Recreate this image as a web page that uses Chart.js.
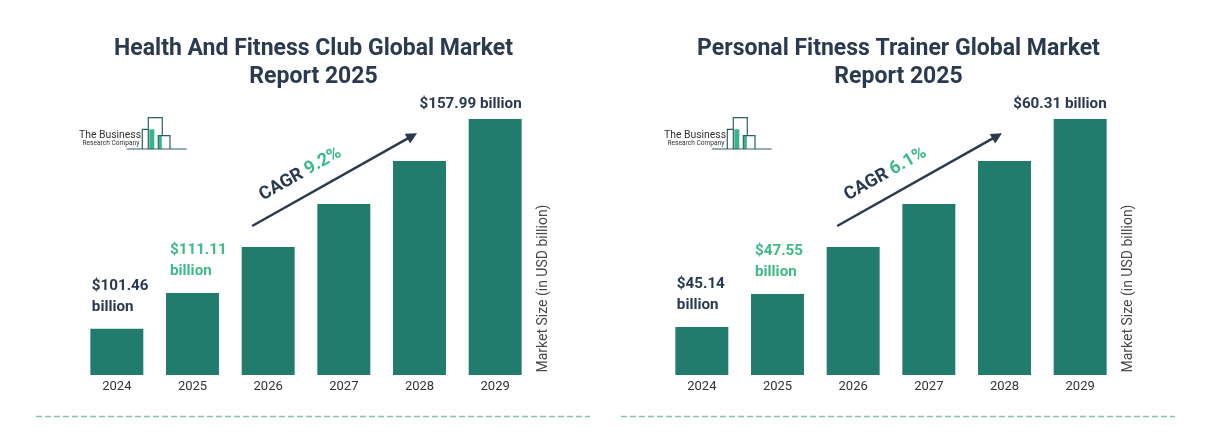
<!DOCTYPE html>
<html>
<head>
<meta charset="utf-8">
<script src="https://cdn.jsdelivr.net/npm/chart.js@4.4.1/dist/chart.umd.min.js"></script>
<style>
  html, body { margin: 0; padding: 0; background: #ffffff; }
  #wrap { position: relative; width: 1215px; height: 443px; overflow: hidden; background: #ffffff; }
  canvas { position: absolute; top: 0; }
  #c1 { left: 0; }
  #c2 { left: 585px; }
</style>
</head>
<body>
<div id="wrap">
  <canvas id="c1" width="600" height="443"></canvas>
  <canvas id="c2" width="600" height="443"></canvas>
</div>
<script>
// ---- Data ----
const years = ['2024', '2025', '2026', '2027', '2028', '2029'];
const clubValues = [101.46, 111.11, 123.5, 135.1, 146.7, 157.99];
const trainerValues = [45.14, 47.55, 50.98, 54.11, 57.25, 60.31];
const clubTitle = ['Health And Fitness Club Global Market', 'Report 2025'];
const trainerTitle = ['Personal Fitness Trainer Global Market', 'Report 2025'];
const clubCagr = '9.2%';
const trainerCagr = '6.1%';
const clubAxisMin = 89;
const trainerAxisMin = 41.65;
const axisLabel = 'Market Size (in USD billion)';

// ---- Styles ----
const BAR = '#217c6d';
const DARK = '#2b3a4f';
const GREEN = '#3dba88';
const FONT = 'Roboto, "Noto Sans", sans-serif';

const decor = {
  id: 'decor',
  afterDraw(chart, args, o) {
    const ctx = chart.ctx;
    const ca = chart.chartArea;
    const bars = chart.getDatasetMeta(0).data;
    const vals = chart.data.datasets[0].data;
    ctx.save();

    // Title
    ctx.fillStyle = DARK;
    ctx.font = 'bold 23px ' + FONT;
    ctx.textAlign = 'center';
    ctx.textBaseline = 'middle';
    ctx.fillText(o.title[0], 313.5, 49);
    ctx.fillText(o.title[1], 313.5, 77.5);

    // Logo
    ctx.fillStyle = '#333333';
    ctx.textAlign = 'left';
    ctx.font = '10.4px ' + FONT;
    ctx.fillText('The Business', 79, 135);
    ctx.font = '6.6px ' + FONT;
    ctx.fillText('Research Company', 82.5, 143.7);
    ctx.fillStyle = '#35b58a';
    ctx.fillRect(149.3, 129.3, 5, 19.7);
    ctx.fillRect(159, 135.7, 2.8, 13.3);
    ctx.strokeStyle = '#2f5f63';
    ctx.lineWidth = 1.2;
    ctx.beginPath();
    ctx.moveTo(126.7, 149); ctx.lineTo(186.7, 149);
    ctx.moveTo(142.3, 149); ctx.lineTo(142.3, 129.3); ctx.lineTo(148.3, 129.3);
    ctx.moveTo(148.3, 149); ctx.lineTo(148.3, 117.7); ctx.lineTo(162.3, 117.7); ctx.lineTo(162.3, 135.7);
    ctx.moveTo(158.3, 149); ctx.lineTo(158.3, 135.7); ctx.lineTo(170, 135.7); ctx.lineTo(170, 149);
    ctx.stroke();

    // Value labels
    ctx.font = 'bold 15.2px ' + FONT;
    ctx.textBaseline = 'middle';
    const b0 = bars[0], b1 = bars[1], b5 = bars[5];
    ctx.fillStyle = DARK;
    ctx.textAlign = 'left';
    ctx.fillText('$' + vals[0].toFixed(2), b0.x - b0.width / 2 + 1.5, b0.y - 42.5);
    ctx.fillText('billion', b0.x - b0.width / 2 + 1.5, b0.y - 21.5);
    ctx.fillStyle = GREEN;
    ctx.fillText('$' + vals[1].toFixed(2), b1.x - b1.width / 2 + 4, b1.y - 42.5);
    ctx.fillText('billion', b1.x - b1.width / 2 + 4, b1.y - 21.5);
    ctx.fillStyle = DARK;
    ctx.textAlign = 'right';
    ctx.fillText('$' + vals[5].toFixed(2) + ' billion', b5.x + b5.width / 2, b5.y - 15);

    // CAGR arrow
    const b2 = bars[2], b4 = bars[4];
    const sx = b2.x - b2.width / 2 + 10.5, sy = b2.y - 21;
    const ex = b4.x - b4.width / 2 + 24, ey = b4.y - 27.7;
    const ang = Math.atan2(ey - sy, ex - sx);
    const len = Math.hypot(ex - sx, ey - sy);
    ctx.translate(sx, sy);
    ctx.rotate(ang);
    ctx.strokeStyle = DARK;
    ctx.fillStyle = DARK;
    ctx.lineWidth = 2.5;
    ctx.beginPath();
    ctx.moveTo(0, 0);
    ctx.lineTo(len - 8, 0);
    ctx.stroke();
    ctx.beginPath();
    ctx.moveTo(len, 0);
    ctx.lineTo(len - 11, -5.5);
    ctx.lineTo(len - 11, 5.5);
    ctx.closePath();
    ctx.fill();
    ctx.font = 'bold 18px ' + FONT;
    ctx.textAlign = 'left';
    ctx.textBaseline = 'alphabetic';
    const w1 = ctx.measureText('CAGR ').width;
    ctx.fillText('CAGR ', 22, -17);
    ctx.fillStyle = GREEN;
    ctx.fillText(o.cagr, 22 + w1, -17);
    ctx.setTransform(1, 0, 0, 1, 0, 0);

    // Axis label
    ctx.save();
    ctx.translate(ca.right + 10, 288.5);
    ctx.rotate(-Math.PI / 2);
    ctx.font = '14px ' + FONT;
    ctx.fillStyle = '#4a4a4a';
    ctx.textAlign = 'center';
    ctx.textBaseline = 'middle';
    ctx.fillText(axisLabel, 0, 0);
    ctx.restore();

    // Dashed separator
    ctx.strokeStyle = '#86c2b4';
    ctx.lineWidth = 1.5;
    ctx.setLineDash([6, 3]);
    ctx.beginPath();
    ctx.moveTo(36, 416.5);
    ctx.lineTo(590, 416.5);
    ctx.stroke();
    ctx.restore();
  }
};

function makeChart(id, values, min, title, cagr) {
  return new Chart(document.getElementById(id), {
    type: 'bar',
    data: {
      labels: years,
      datasets: [{
        data: values,
        backgroundColor: BAR,
        borderWidth: 0,
        barPercentage: 0.7,
        categoryPercentage: 1.0
      }]
    },
    options: {
      responsive: false,
      animation: false,
      devicePixelRatio: 1,
      layout: { padding: { left: 79, right: 67, top: 119, bottom: 0 } },
      plugins: {
        legend: { display: false },
        tooltip: { enabled: false },
        decor: { title: title, cagr: cagr }
      },
      scales: {
        x: {
          grid: { display: false, drawTicks: false },
          border: { display: false },
          ticks: { color: '#333333', font: { family: FONT, size: 13 }, padding: 4 },
          afterFit(scale) { scale.height = 68; }
        },
        y: {
          display: false,
          min: min,
          max: values[values.length - 1]
        }
      }
    },
    plugins: [decor]
  });
}

function start() {
  makeChart('c1', clubValues, clubAxisMin, clubTitle, clubCagr);
  makeChart('c2', trainerValues, trainerAxisMin, trainerTitle, trainerCagr);
}
if (document.fonts && document.fonts.load) {
  Promise.all([
    document.fonts.load('bold 22px Roboto'),
    document.fonts.load('13px Roboto')
  ]).then(start, start);
} else {
  start();
}
</script>
</body>
</html>
